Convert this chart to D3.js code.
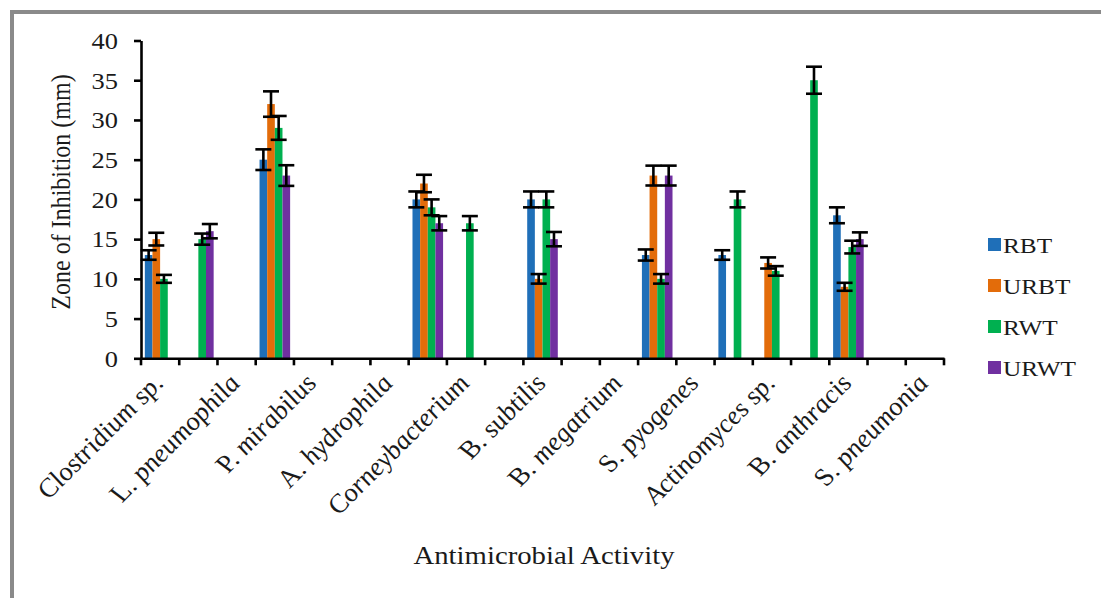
<!DOCTYPE html>
<html>
<head>
<meta charset="utf-8">
<script src="https://cdn.jsdelivr.net/npm/d3@7"></script>
<style>
  html, body { margin: 0; padding: 0; background: #fff; }
  svg { display: block; }
  text { font-family: "Liberation Serif", "Times New Roman", serif; fill: #1a1a1a; }
</style>
</head>
<body>
<svg id="chart" width="1101" height="598"></svg>
<script>
// Organisms along the x axis (only every other name is printed)
const categories = [
  "Clostridium sp.", "", "L. pneumophila", "", "P. mirabilus", "",
  "A. hydrophila", "", "Corneybacterium", "", "B. subtilis", "",
  "B. megatrium", "", "S. pyogenes", "", "Actinomyces sp.", "",
  "B. anthracis", "", "S. pneumonia"
];
const seriesNames = ["RBT", "URBT", "RWT", "URWT"];
const seriesColors = ["#1f6fb8", "#e36c0a", "#00b050", "#7030a0"];

// Zone of inhibition (mm); null = no bar
const RBT  = [13, null, null, 25, null, null, null, 20, null, null, 20, null, null, 13, null, 13, null, null, 18, null, null];
const URBT = [15, null, null, 32, null, null, null, 22, null, null, 10, null, null, 23, null, null, 12, null, 9, null, null];
const RWT  = [10, 15, null, 29, null, null, null, 19, 17, null, 20, null, null, 10, null, 20, 11, 35, 14, null, null];
const URWT = [null, 16, null, 23, null, null, null, 17, null, null, 15, null, null, 23, null, null, null, null, 15, null, null];

// Error bar half-lengths (mm)
const RBT_err  = [0.6, null, null, 1.3, null, null, null, 1.0, null, null, 1.0, null, null, 0.7, null, 0.6, null, null, 1.0, null, null];
const URBT_err = [0.8, null, null, 1.6, null, null, null, 1.1, null, null, 0.6, null, null, 1.25, null, null, 0.7, null, 0.5, null, null];
const RWT_err  = [0.5, 0.7, null, 1.5, null, null, null, 1.0, 0.9, null, 1.0, null, null, 0.6, null, 1.0, 0.6, 1.7, 0.8, null, null];
const URWT_err = [null, 0.9, null, 1.3, null, null, null, 0.9, null, null, 0.9, null, null, 1.25, null, null, null, null, 0.85, null, null];

const yTicks = [0, 5, 10, 15, 20, 25, 30, 35, 40];

const values = [RBT, URBT, RWT, URWT];
const errors = [RBT_err, URBT_err, RWT_err, URWT_err];

const svg = d3.select("#chart");
const SX = 1.15; // horizontal stretch applied to all lettering
// rotation that makes stretched labels run at 45 degrees on screen
const ROT = Math.atan(SX) * 180 / Math.PI;

// Outer frame (only its top and left edges fall inside the canvas)
svg.append("rect")
  .attr("x", 12).attr("y", 12).attr("width", 1300).attr("height", 800)
  .attr("fill", "none").attr("stroke", "#8a8a8a").attr("stroke-width", 4);

const x = d3.scaleBand().domain(d3.range(categories.length)).range([141, 944]).padding(0);
const xs = d3.scaleBand().domain(seriesNames).range([0, x.bandwidth()]).paddingInner(0).paddingOuter(0.5);
const y = d3.scaleLinear().domain([0, 40]).range([358.3, 40.5]);

// Bars
const bars = [];
values.forEach((arr, s) => arr.forEach((v, i) => {
  if (v != null) bars.push({ s, i, v, e: errors[s][i] });
}));

svg.append("g").selectAll("rect").data(bars).join("rect")
  .attr("x", d => x(d.i) + xs(seriesNames[d.s]))
  .attr("width", xs.bandwidth())
  .attr("y", d => y(d.v))
  .attr("height", d => y(0) - y(d.v))
  .attr("fill", d => seriesColors[d.s]);

// Error bars
const eb = svg.append("g").attr("stroke", "#000").attr("stroke-width", 2.6).attr("fill", "none");
bars.filter(d => d.e != null).forEach(d => {
  const cx = x(d.i) + xs(seriesNames[d.s]) + xs.bandwidth() / 2;
  const y1 = y(d.v + d.e), y2 = y(d.v - d.e);
  eb.append("line").attr("x1", cx).attr("x2", cx).attr("y1", y1).attr("y2", y2);
  eb.append("line").attr("x1", cx - 8).attr("x2", cx + 8).attr("y1", y1).attr("y2", y1);
  eb.append("line").attr("x1", cx - 8).attr("x2", cx + 8).attr("y1", y2).attr("y2", y2);
});

// Y axis
const yAxis = svg.append("g").attr("transform", "translate(141,0)")
  .call(d3.axisLeft(y).tickValues(yTicks).tickSize(7).tickSizeOuter(0));
yAxis.select(".domain").attr("stroke", "#000").attr("stroke-width", 2.6);
yAxis.selectAll(".tick line").attr("stroke", "#000").attr("stroke-width", 2.6);
yAxis.selectAll(".tick text")
  .attr("x", null).attr("dy", "0.34em")
  .attr("transform", "translate(-23,0) scale(" + SX + ",1)")
  .style("font-family", '"Liberation Serif", serif')
  .style("font-size", "23px").attr("fill", "#1a1a1a");

// X axis line with ticks at category boundaries
const xAxis = svg.append("g").attr("transform", "translate(0," + y(0) + ")")
  .call(d3.axisBottom(x).tickSize(0).tickFormat(() => ""));
xAxis.select(".domain").attr("stroke", "#000").attr("stroke-width", 2.6);
xAxis.selectAll(".tick text").remove();
const bounds = x.domain().map(i => x(i)).concat([x.range()[1]]);
xAxis.append("g").selectAll("line").data(bounds).join("line")
  .attr("x1", d => d).attr("x2", d => d).attr("y1", 0).attr("y2", 7)
  .attr("stroke", "#000").attr("stroke-width", 2.6);

// Rotated category labels: genus initial upright, the rest italic
const labG = svg.append("g");
categories.forEach((name, i) => {
  if (!name) return;
  const cx = x(i) + x.bandwidth() / 2 + 5;
  const t = labG.append("text")
    .attr("text-anchor", "end")
    .attr("transform", `translate(${cx},384) scale(${SX},1) rotate(${-ROT})`)
    .style("font-size", "25px");
  const m = name.match(/^([A-Z]\.)\s(.+)$/);
  if (m) {
    t.append("tspan").text(m[1] + " ");
    t.append("tspan").style("font-style", "italic").text(m[2]);
  } else {
    t.append("tspan").style("font-style", "italic").text(name);
  }
});

// Axis titles
svg.append("text")
  .attr("text-anchor", "middle")
  .attr("transform", `translate(544,564) scale(${SX},1)`)
  .style("font-size", "25px")
  .text("Antimicrobial Activity");

svg.append("text")
  .attr("text-anchor", "middle")
  .attr("transform", `translate(70,192) scale(${SX},1) rotate(-90)`)
  .style("font-size", "24px")
  .text("Zone of Inhibition (mm)");

// Legend
const leg = svg.append("g");
seriesNames.forEach((nm, k) => {
  const ly = 245 + k * 41;
  leg.append("rect").attr("x", 988).attr("y", ly - 7).attr("width", 13).attr("height", 13)
    .attr("fill", seriesColors[k]);
  leg.append("text")
    .attr("transform", `translate(1003,${ly}) scale(${SX},1)`)
    .attr("dy", "0.35em")
    .style("font-size", "22px")
    .text(nm);
});
</script>
</body>
</html>
